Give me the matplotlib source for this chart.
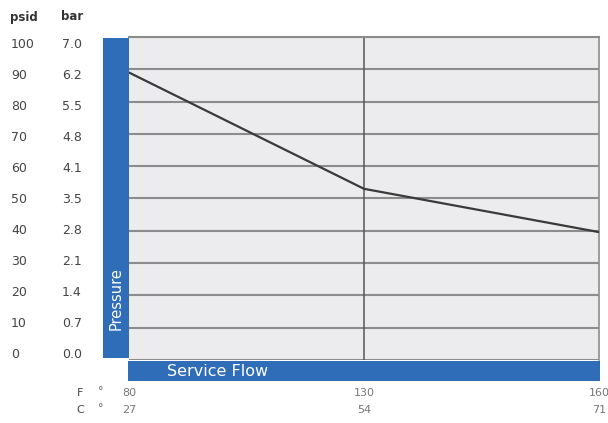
import matplotlib
matplotlib.use("Agg")
import matplotlib.pyplot as plt
from matplotlib.patches import Rectangle
from matplotlib.transforms import blended_transform_factory

# Data
temp_f = ["80", "130", "160"]
temp_c = ["27", "54", "71"]
pressure_psid = [89.0, 53.0, 39.6]
psid_ticks = [100, 90, 80, 70, 60, 50, 40, 30, 20, 10, 0]
bar_ticks = ["7.0", "6.2", "5.5", "4.8", "4.1", "3.5", "2.8", "2.1", "1.4", "0.7", "0.0"]

W, H = 608, 423
fig = plt.figure(figsize=(W / 100, H / 100), dpi=100)
fig.patch.set_facecolor("white")

def fx(px):
    return px / W

def fy(py):
    return 1 - py / H

ax = fig.add_axes([fx(129), fy(360), fx(599) - fx(129), fy(37) - fy(360)])
ax.set_facecolor("#ececee")
xs = list(range(len(temp_f)))
ax.set_xlim(0, len(temp_f) - 1)
ax.set_ylim(0, 100)

for v in psid_ticks:
    ax.axhline(v, color="#8c8c8c", lw=1.5, zorder=1)
ax.axvline(1, color="#555555", lw=1.1, zorder=1)

ax.plot(xs, pressure_psid, color="#3a3a3a", lw=1.6, zorder=3)

for s in ["left", "bottom"]:
    ax.spines[s].set_visible(False)
ax.spines["top"].set_color("#8c8c8c")
ax.spines["right"].set_color("#8c8c8c")
ax.spines["top"].set_linewidth(1.5)
ax.spines["right"].set_linewidth(1.2)
ax.set_xticks([])
ax.set_yticks([])

blue = "#2f6db8"
fig.patches.append(Rectangle((fx(103), fy(358)), fx(129) - fx(103), fy(38) - fy(358),
                             transform=fig.transFigure, facecolor=blue, edgecolor="none"))
fig.patches.append(Rectangle((fx(128), fy(381)), fx(600) - fx(128), fy(361) - fy(381),
                             transform=fig.transFigure, facecolor=blue, edgecolor="none"))

fig.text(fx(116), fy(299), "Pressure", rotation=90, color="white", fontsize=10.5,
         ha="center", va="center")
fig.text(fx(167), fy(371), "Service Flow", color="white", fontsize=11.5,
         ha="left", va="center")

# header
fig.text(fx(10), fy(17), "psid", fontsize=8.5, fontweight="bold", color="#333333", ha="left", va="center")
fig.text(fx(61), fy(17), "bar", fontsize=8.5, fontweight="bold", color="#333333", ha="left", va="center")

# y labels
tcol = "#444444"
yt = blended_transform_factory(fig.transFigure, ax.transAxes)
for v, b in zip(psid_ticks, bar_ticks):
    yfrac = 0.0155 + 0.96 * v / 100
    ax.text(fx(11), yfrac, str(v), transform=yt, fontsize=9, color=tcol, ha="left", va="center")
    ax.text(fx(62), yfrac, b, transform=yt, fontsize=9, color=tcol, ha="left", va="center")

# x labels
lcol = "#777777"
fig.text(fx(80), fy(393), "F", fontsize=8, color="#444444", ha="center", va="center")
fig.text(fx(80), fy(410), "C", fontsize=8, color="#444444", ha="center", va="center")
fig.text(fx(101), fy(391), "°", fontsize=8, color="#666666", ha="center", va="center")
fig.text(fx(101), fy(408), "°", fontsize=8, color="#666666", ha="center", va="center")
xt = blended_transform_factory(ax.transData, fig.transFigure)
for i, (f, c) in enumerate(zip(temp_f, temp_c)):
    ax.text(i, fy(393), f, transform=xt, fontsize=8, color=lcol, ha="center", va="center")
    ax.text(i, fy(410), c, transform=xt, fontsize=8, color=lcol, ha="center", va="center")

fig.savefig("out.png", dpi=100)
